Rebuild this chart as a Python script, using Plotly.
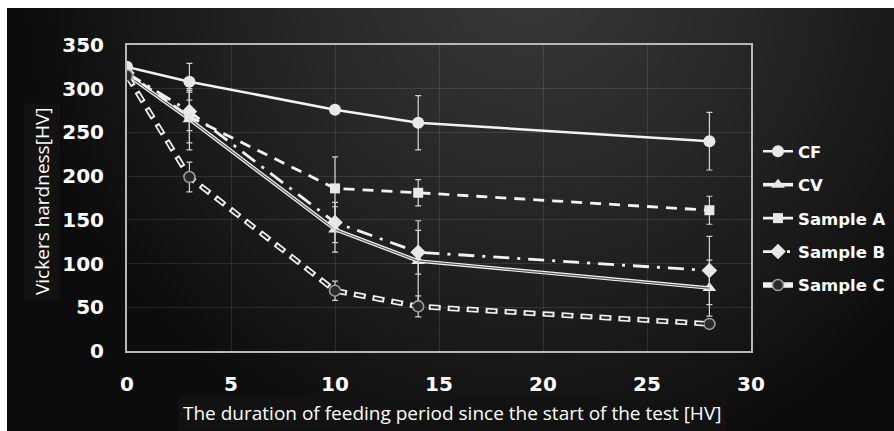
import base64, struct, zlib
import numpy as np
import plotly.graph_objects as go

# ---------------- data ----------------
days = [0, 3, 10, 14, 28]
cf = [325, 308, 276, 261, 240]
cf_err = [4, 21, 4, 31, 33]
cv = [316, 265, 139, 103, 72]
cv_err = [4, 35, 26, 46, 32]
sample_a = [318, 268, 186, 181, 161]
sample_a_err = [4, 30, 36, 15, 16]
sample_b = [318, 274, 147, 113, 92]
sample_b_err = [4, 22, 23, 25, 39]
sample_c = [315, 199, 69, 51, 31]
sample_c_err = [4, 17, 11, 12, 3]
x_ticks = [0, 5, 10, 15, 20, 25, 30]
y_ticks = [0, 50, 100, 150, 200, 250, 300, 350]

# ---------------- background gradient (decoration) ----------------
W, H = 900, 440
yy, xx = np.mgrid[0:H, 0:W].astype(float)
d = np.sqrt(((xx - 520) / 510.0) ** 2 + ((yy + 40) / 520.0) ** 2)
d = np.clip(d, 0, 1)
val = (0x38 - (0x38 - 0x0c) * d ** 1.2).astype(np.uint8)
rgb = np.stack([val, val, val], axis=-1)
raw = b"".join(b"\x00" + rgb[r].tobytes() for r in range(H))

def chunk(tag, data):
    c = struct.pack(">I", len(data)) + tag + data
    return c + struct.pack(">I", zlib.crc32(tag + data) & 0xffffffff)

png = (b"\x89PNG\r\n\x1a\n" + chunk(b"IHDR", struct.pack(">IIBBBBB", W, H, 8, 2, 0, 0, 0))
       + chunk(b"IDAT", zlib.compress(raw, 9)) + chunk(b"IEND", b""))
src = "data:image/png;base64," + base64.b64encode(png).decode()

# plot area in pixels
L, R, T, B = 127, 751, 45, 351
PW, PH = R - L, B - T

fig = go.Figure()

FONT = "Open Sans"
BFONT = "DejaVu Sans"
white = "#f2f2f2"
mk = "#e8e8e8"
errc = "#d4d4d4"

def err(e):
    return dict(type="data", array=e, visible=True, color=errc, thickness=1.2, width=3)

# CF
fig.add_trace(go.Scatter(x=days, y=cf, name="CF", mode="lines+markers", legendgroup="cf",
                         line=dict(color=white, width=2.5),
                         marker=dict(symbol="circle", size=12, color=mk),
                         error_y=err(cf_err)))
# CV double line
fig.add_trace(go.Scatter(x=days, y=cv, name="CV", mode="lines+markers", legendgroup="cv",
                         line=dict(color=white, width=3.6),
                         marker=dict(symbol="triangle-up", size=12, color=mk),
                         error_y=err(cv_err)))
fig.add_trace(go.Scatter(x=days, y=cv, name="CV", mode="lines", legendgroup="cv", showlegend=False,
                         line=dict(color="#5a5a5a", width=1.2), hoverinfo="skip"))
# Sample A
fig.add_trace(go.Scatter(x=days, y=sample_a, name="Sample A", mode="lines+markers", legendgroup="a",
                         line=dict(color=white, width=2.8, dash="11px,8px"),
                         marker=dict(symbol="square", size=10, color=mk),
                         error_y=err(sample_a_err)))
# Sample B
fig.add_trace(go.Scatter(x=days, y=sample_b, name="Sample B", mode="lines+markers", legendgroup="b",
                         line=dict(color=white, width=2.8, dash="16px,8px,3px,8px"),
                         marker=dict(symbol="diamond", size=12, color=mk),
                         error_y=err(sample_b_err)))
# Sample C hollow dashes
fig.add_trace(go.Scatter(x=days, y=sample_c, name="Sample C", mode="lines+markers", legendgroup="c",
                         line=dict(color=white, width=5.5, dash="12px,7px"),
                         marker=dict(symbol="circle", size=11, color="#2a2a2a",
                                     line=dict(color="#a0a0a0", width=1.5)),
                         error_y=err(sample_c_err)))
fig.add_trace(go.Scatter(x=days, y=sample_c, name="Sample C", mode="lines", legendgroup="c",
                         showlegend=False, hoverinfo="skip",
                         line=dict(color="#262626", width=2.2, dash="0px,2px,8px,9px")))

fig.add_layout_image(dict(source=src, xref="paper", yref="paper",
                          x=(7 - L) / PW, y=1 + (T - 8) / PH,
                          sizex=W / PW, sizey=H / PH, xanchor="left", yanchor="top",
                          sizing="stretch", layer="below"))

axis_common = dict(showline=True, mirror=True, linecolor="#b8b8b8", linewidth=2,
                   showgrid=True, gridcolor="rgba(255,255,255,0.10)", gridwidth=1,
                   zeroline=False, ticks="",
                   tickfont=dict(family=BFONT, size=20, color="#ffffff", weight="bold"))

fig.update_xaxes(range=[0, 30], tickvals=x_ticks, ticktext=[str(v) for v in x_ticks],
                 ticklabelstandoff=14, **axis_common)
fig.update_yaxes(range=[0, 350], tickvals=y_ticks, ticktext=[str(v) for v in y_ticks],
                 ticklabelstandoff=17, **axis_common)

fig.add_annotation(text="The duration of feeding period since the start of the test [HV]",
                   xref="paper", yref="paper", x=(452 - L) / PW, y=-(413 - B) / PH,
                   showarrow=False, xanchor="center", yanchor="middle",
                   font=dict(family=FONT, size=19, color="#ffffff"),
                   bgcolor="#121212", borderpad=4)
fig.add_annotation(text="Vickers hardness[HV]", textangle=-90,
                   xref="paper", yref="paper", x=(42 - L) / PW, y=(B - 202) / PH,
                   showarrow=False, xanchor="center", yanchor="middle",
                   font=dict(family=FONT, size=19, color="#ffffff"),
                   bgcolor="#121212", borderpad=4)

fig.update_layout(
    width=894, height=431,
    margin=dict(l=L, r=894 - R, t=T, b=431 - B, autoexpand=False),
    paper_bgcolor="#ffffff", plot_bgcolor="rgba(0,0,0,0)",
    showlegend=True,
    legend=dict(x=(758 - L) / PW, y=(B - 134) / PH, xanchor="left", yanchor="top",
                bgcolor="rgba(0,0,0,0)", traceorder="grouped", tracegroupgap=9,
                font=dict(family=BFONT, size=16.5, color="#ffffff", weight="bold"),
                itemwidth=30),
)

fig.write_html("out.html")
